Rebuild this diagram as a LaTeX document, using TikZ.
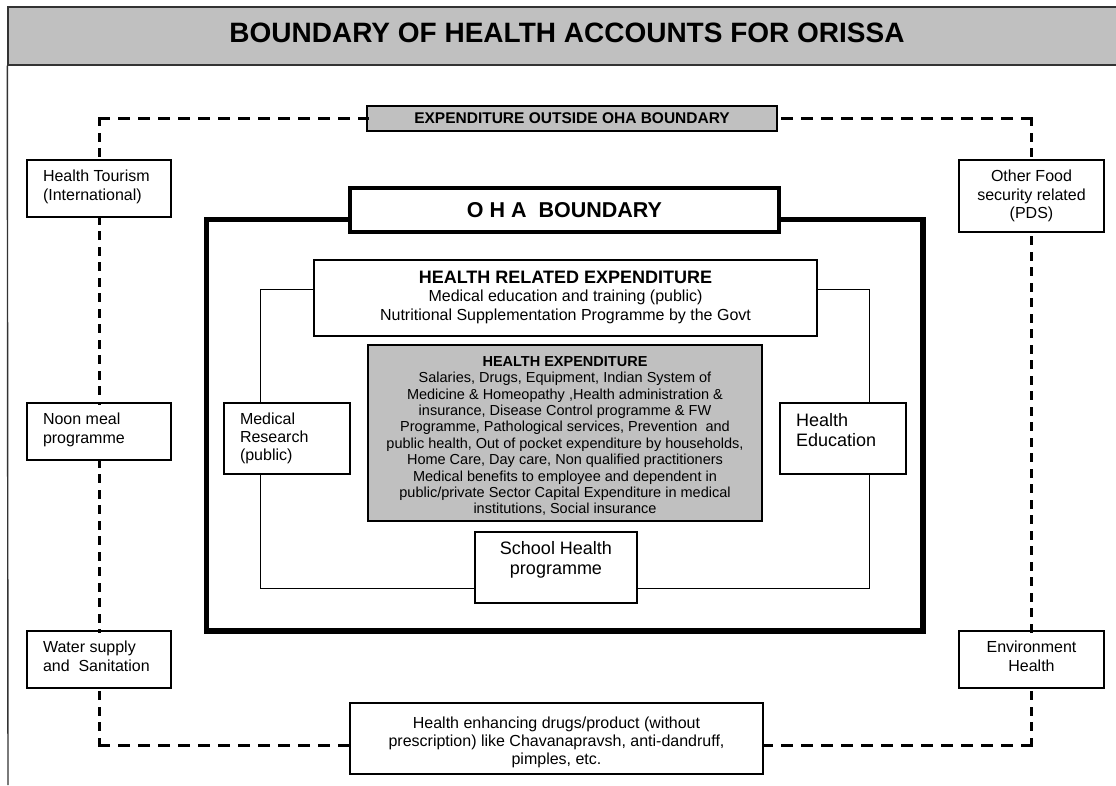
\documentclass[tikz,border=0pt]{standalone}
\usepackage{fontspec}
\setmainfont{Liberation Sans}
\definecolor{panel}{HTML}{C0C0C0}
\newcommand\fsz[2]{\fontsize{#1pt}{#2pt}\selectfont}
\begin{document}
\begin{tikzpicture}[x=1pt,y=-1pt,
  box/.style={draw=black, line width=1.1pt, fill=white, inner sep=0pt, outer sep=0pt},
  greybox/.style={box, fill=panel},
  txt/.style={inner sep=0pt, outer sep=0pt, text=black},
  dashH/.style={line width=3pt, line cap=rect, dash pattern=on 9pt off 11pt},
  dashV/.style={line width=3pt, line cap=rect, dash pattern=on 6pt off 9.5pt},
]
\useasboundingbox (0,0) rectangle (1116,785);
\fill[white] (0,0) rectangle (1116,785);

% header band and page frame
\node[draw=black!80, line width=1.4pt, fill=panel, minimum width=1114pt, minimum height=58pt, inner sep=0pt] (band) at (565,36) {};
\node[txt, anchor=base, font=\fsz{28}{32}\bfseries] (title) at (567,42) {BOUNDARY OF HEALTH ACCOUNTS FOR ORISSA};
\coordinate (foot) at (8,785);
\draw[line width=1.4pt, black!80] (band.south west) -- (foot);

% OHA boundary and inner frame
\node[draw=black, line width=5.5pt, minimum width=716.5pt, minimum height=411.5pt, inner sep=0pt] (ohaframe) at (564.75,425.25) {};
\node[draw=black, line width=1pt, minimum width=609pt, minimum height=299pt, inner sep=0pt] (inner) at (564.5,438.5) {};

% outside boxes
\node[greybox, minimum width=410pt, minimum height=25pt, font=\fsz{15.5}{17}\bfseries] (eob) at (572,118.5) {EXPENDITURE OUTSIDE OHA BOUNDARY};
\node[box, minimum width=144pt, minimum height=57pt] (ht) at (99,188.5) {};
\node[box, minimum width=144pt, minimum height=57pt] (noon) at (99,431.5) {};
\node[box, minimum width=144pt, minimum height=57pt] (water) at (99,659.5) {};
\node[box, minimum width=145pt, minimum height=72pt] (food) at (1031.5,196) {};
\node[box, minimum width=145pt, minimum height=57pt] (env) at (1031.5,659.5) {};
\node[box, minimum width=413pt, minimum height=71pt] (hed) at (556.5,738.5) {};

% dashed outer boundary
\coordinate (tl) at (ht.north |- eob.west);
\coordinate (tr) at (food.north |- eob.east);
\coordinate (bl) at (99,745);
\coordinate (br) at (1031.5,745);
\draw[dashH] (tl) -- (eob.west);
\draw[dashV] (tl) -- (ht.north);
\draw[dashV] (ht.south) -- (noon.north);
\draw[dashV] (noon.south) -- (water.north);
\draw[dashV] (bl) -- (water.south);
\draw[dashH] (bl) -- (bl -| hed.west);
\draw[dashH] (br) -- (br -| hed.east);
\draw[dashV] (br) -- (env.south);
\draw[dashV] (env.north) -- (food.south);
\draw[dashV] (tr) -- (food.north);
\draw[dashH] (tr) -- (eob.east);

% inside boxes
\node[box, line width=4.5pt, minimum width=429pt, minimum height=44pt, font=\fsz{21.5}{24}\bfseries] (ohatitle) at (564.5,210) {O H A\ \ BOUNDARY};
\node[box, minimum width=503pt, minimum height=76pt] (hre) at (565.5,298) {};
\node[greybox, minimum width=394pt, minimum height=176pt] (he) at (565,433) {};
\node[box, minimum width=126pt, minimum height=71pt] (mr) at (287,438.5) {};
\node[box, minimum width=126pt, minimum height=71pt] (hedu) at (843,438.5) {};
\node[box, minimum width=162pt, minimum height=71pt] (sh) at (556,567.5) {};

% texts
\node[txt, anchor=north west, align=left, font=\fsz{16}{18.5}] (htT) at ([shift={(16,8.75)}]ht.north west) {\strut Health Tourism\\(International)};
\node[txt, anchor=north west, align=left, font=\fsz{16}{18.5}] (noonT) at ([shift={(16,8.75)}]noon.north west) {\strut Noon meal\\programme};
\node[txt, anchor=north west, align=left, font=\fsz{16}{18.5}] (waterT) at ([shift={(16,8.75)}]water.north west) {\strut Water supply\\and\ \ Sanitation};
\node[txt, anchor=north, align=center, font=\fsz{16}{18.5}] (foodT) at ([shift={(0,8.75)}]food.north) {\strut Other Food\\security related\\(PDS)};
\node[txt, anchor=north, align=center, font=\fsz{16}{18.5}] (envT) at ([shift={(0,8.75)}]env.north) {\strut Environment\\Health};
\node[txt, anchor=north, align=center, font=\fsz{16}{18}] (hedT) at ([shift={(0,12.4)}]hed.north) {\strut Health enhancing drugs/product (without\\prescription) like Chavanapravsh, anti-dandruff,\\pimples, etc.};
\node[txt, anchor=north west, align=left, font=\fsz{16}{18}] (mrT) at ([shift={(16,8.4)}]mr.north west) {\strut Medical\\Research\\(public)};
\node[txt, anchor=north west, align=left, font=\fsz{18}{20}] (heduT) at ([shift={(16,9.4)}]hedu.north west) {\strut Health\\Education};
\node[txt, anchor=north, align=center, font=\fsz{18}{20}] (shT) at ([shift={(0,8.7)}]sh.north) {\strut School Health\\programme};
\node[txt, anchor=north, align=center, font=\fsz{16}{18.6}] (hreT) at ([shift={(0,10.3)}]hre.north) {\strut{\fsz{18}{18.6}\bfseries HEALTH RELATED EXPENDITURE}\\Medical education and training (public)\\Nutritional Supplementation Programme by the Govt};
\node[txt, anchor=north, align=center, font=\fsz{14.5}{16.4}] (heT) at ([shift={(0,9.8)}]he.north) {\strut{\bfseries HEALTH EXPENDITURE}\\Salaries, Drugs, Equipment, Indian System of\\Medicine \& Homeopathy ,Health administration \&\\insurance, Disease Control programme \& FW\\Programme, Pathological services, Prevention\ \ and\\public health, Out of pocket expenditure by households,\\Home Care, Day care, Non qualified practitioners\\Medical benefits to employee and dependent in\\public/private Sector Capital Expenditure in medical\\institutions, Social insurance};
\end{tikzpicture}
\end{document}
